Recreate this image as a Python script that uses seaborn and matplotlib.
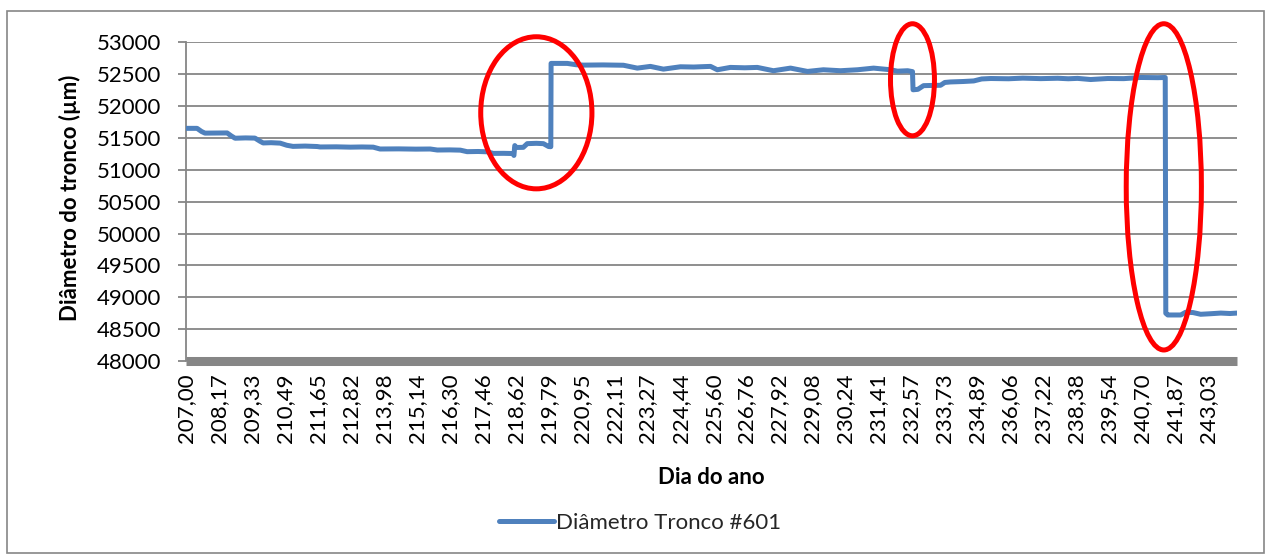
import matplotlib
matplotlib.use("Agg")
import matplotlib.pyplot as plt
from matplotlib.patches import Ellipse, Rectangle
import pandas as pd
import seaborn as sns

# Trunk diameter record (day of year, µm)
day = [
    207.00, 207.39, 207.55, 207.67, 208.45, 208.60, 208.73, 209.10, 209.43, 209.60,
    209.72, 210.00, 210.32, 210.55, 210.77, 211.20, 211.62, 211.73, 212.30, 212.80,
    213.20, 213.60, 213.84, 214.50, 215.10, 215.61, 215.86, 216.30, 216.67, 216.91,
    217.30, 217.62, 217.83, 218.20, 218.52, 218.56, 218.59, 218.64, 218.89, 219.03,
    219.35, 219.60, 219.78, 219.86, 219.87, 220.44, 220.75, 221.01, 221.70, 222.42,
    222.91, 223.37, 223.83, 224.43, 224.90, 225.24, 225.49, 225.73, 226.19, 226.70,
    227.14, 227.71, 228.31, 228.91, 229.47, 230.07, 230.67, 231.24, 231.84, 232.08,
    232.44, 232.61, 232.63, 232.80, 233.00, 233.60, 233.75, 233.95, 234.40, 234.77,
    235.05, 235.37, 236.00, 236.50, 237.13, 237.73, 238.10, 238.43, 238.89, 239.49,
    240.06, 240.66, 241.26, 241.52, 241.54, 241.61, 242.07, 242.24, 242.50, 242.77,
    243.13, 243.48, 243.80, 244.05,
]
diameter = [
    51650, 51650, 51600, 51575, 51578, 51530, 51495, 51500, 51497, 51450,
    51421, 51425, 51418, 51385, 51367, 51372, 51365, 51358, 51360, 51355,
    51358, 51355, 51326, 51328, 51324, 51326, 51310, 51312, 51308, 51284,
    51287, 51282, 51257, 51258, 51255, 51225, 51380, 51350, 51352, 51410,
    51415, 51410, 51365, 51362, 52669, 52669, 52648, 52642, 52645, 52640,
    52595, 52622, 52579, 52616, 52612, 52618, 52622, 52569, 52606, 52600,
    52606, 52554, 52595, 52543, 52569, 52554, 52569, 52595, 52569, 52547,
    52554, 52540, 52255, 52262, 52320, 52326, 52370, 52378, 52385, 52394,
    52425, 52432, 52428, 52438, 52430, 52436, 52428, 52434, 52416, 52432,
    52430, 52448, 52445, 52448, 48749, 48722, 48722, 48765, 48760, 48733,
    48742, 48752, 48745, 48752,
]

tick_labels = [
    "207,00", "208,17", "209,33", "210,49", "211,65", "212,82", "213,98", "215,14",
    "216,30", "217,46", "218,62", "219,79", "220,95", "222,11", "223,27", "224,44",
    "225,60", "226,76", "227,92", "229,08", "230,24", "231,41", "232,57", "233,73",
    "234,89", "236,06", "237,22", "238,38", "239,54", "240,70", "241,87", "243,03",
]
y_ticks = [48000, 48500, 49000, 49500, 50000, 50500, 51000, 51500, 52000, 52500, 53000]

series_name = "Diâmetro Tronco #601"
x_title = "Dia do ano"
y_title = "Diâmetro do tronco (µm)"

LINE_BLUE = "#4F81BD"
AXIS_GREY = "#868686"

sns.set_theme(style="white")
plt.rcParams["font.family"] = ["Lato", "DejaVu Sans"]

W, H = 1272, 555
fig = plt.figure(figsize=(W / 100, H / 100), dpi=100)
fig.patch.set_facecolor("white")

left_px, right_px, top_px, bottom_px = 186, 1237, 42.3, 361
ax = fig.add_axes([left_px / W, 1 - bottom_px / H,
                   (right_px - left_px) / W, (bottom_px - top_px) / H])

df = pd.DataFrame({"Dia": day, "Diametro": diameter, "Serie": series_name})
sns.lineplot(data=df, x="Dia", y="Diametro", hue="Serie", palette=[LINE_BLUE],
             estimator=None, sort=False, lw=3.6, ax=ax, legend=False,
             solid_capstyle="round", solid_joinstyle="round", zorder=3)

tick_days = [float(t.replace(",", ".")) for t in tick_labels]
ax.set_xlim(207.0, 244.05)
ax.set_ylim(48000, 53000)
ax.set_xticks(tick_days)
ax.set_xticklabels(tick_labels, rotation=90)
ax.set_yticks(y_ticks)
ax.set_yticklabels([str(v) for v in y_ticks])

ax.yaxis.grid(True, color=AXIS_GREY, lw=1.3)
ax.xaxis.grid(False)
ax.set_axisbelow(True)

for side in ("top", "right"):
    ax.spines[side].set_visible(False)
ax.spines["left"].set_color(AXIS_GREY)
ax.spines["left"].set_linewidth(1.3)
ax.spines["bottom"].set_color(AXIS_GREY)
ax.spines["bottom"].set_linewidth(6.5)
ax.spines["bottom"].set_capstyle("butt")
ax.spines["bottom"].set_zorder(4)

ax.tick_params(axis="y", length=6, width=1.3, color=AXIS_GREY, pad=12,
               labelsize=16, labelcolor="black", left=True)
ax.tick_params(axis="x", length=0, pad=9, labelsize=16, labelcolor="black")

ax.set_xlabel(x_title, fontsize=16, fontweight="bold", color="black")
ax.set_ylabel(y_title, fontsize=16, fontweight="bold", color="black")
ax.xaxis.set_label_coords(0.5, -(477 - bottom_px) / (bottom_px - top_px))
ax.xaxis.label.set_va("center")
ax.yaxis.set_label_coords((70 - left_px) / (right_px - left_px), 0.513)
ax.yaxis.label.set_va("center")

# Highlighted events on the record
events = [
    (219.35, 51894, 3.92, 2386),
    (232.61, 52412, 1.55, 1758),
    (241.47, 50732, 2.65, 5118),
]
for cx, cy, w, h in events:
    ax.add_patch(Ellipse((cx, cy), width=w, height=h, fill=False,
                         edgecolor="#FF0000", lw=3.6, clip_on=False, zorder=6))

handle = plt.Line2D([], [], color=LINE_BLUE, lw=3.6, solid_capstyle="round")
fig.legend([handle], [series_name], loc="center",
           bbox_to_anchor=(640 / W, 1 - 523 / H), frameon=False,
           fontsize=16, handlelength=2.5, handletextpad=0.1)

fig.add_artist(Rectangle((7 / W, 2 / H), (1264 - 7) / W, (553 - 11) / H,
                         transform=fig.transFigure, fill=False,
                         edgecolor=AXIS_GREY, lw=1.2))

fig.savefig("out.png", dpi=100, facecolor="white")
